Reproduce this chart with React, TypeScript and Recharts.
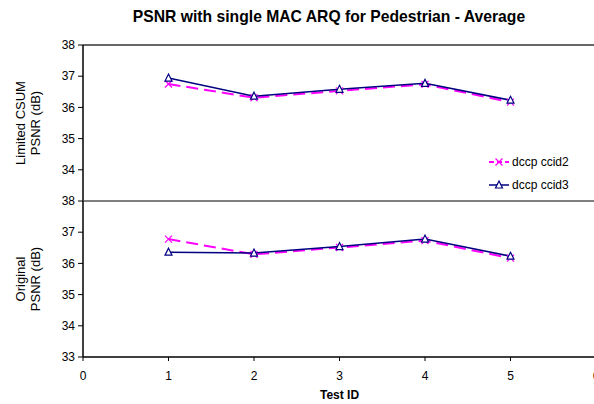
import React from "react";
import { LineChart, Line, XAxis, YAxis, ReferenceLine } from "recharts";

// Test IDs along the shared x axis
const testIds = [1, 2, 3, 4, 5];
const xTicks = [0, 1, 2, 3, 4, 5, 6];

// PSNR (dB) with limited CSUM
const csumCcid2 = [36.75, 36.31, 36.53, 36.74, 36.17];
const csumCcid3 = [36.94, 36.36, 36.58, 36.77, 36.23];

// PSNR (dB) original
const origCcid2 = [36.78, 36.29, 36.51, 36.73, 36.17];
const origCcid3 = [36.36, 36.33, 36.54, 36.78, 36.23];

const topTicks = [34, 35, 36, 37, 38];
const bottomTicks = [33, 34, 35, 36, 37, 38];

const CCID2 = "#ff00ff";
const CCID3 = "#000080";
const FONT = "Arial, 'Liberation Sans', sans-serif";

const topData = testIds.map((id, i) => ({ id, ccid2: csumCcid2[i], ccid3: csumCcid3[i] }));
const bottomData = testIds.map((id, i) => ({ id, ccid2: origCcid2[i], ccid3: origCcid3[i] }));

const CrossDot = (props: any) => {
  const { cx, cy } = props;
  if (cx == null || cy == null) return null;
  const s = 3.5;
  return (
    <g stroke={CCID2} strokeWidth={1.2}>
      <line x1={cx - s} y1={cy - s} x2={cx + s} y2={cy + s} />
      <line x1={cx - s} y1={cy + s} x2={cx + s} y2={cy - s} />
    </g>
  );
};

const TriangleDot = (props: any) => {
  const { cx, cy } = props;
  if (cx == null || cy == null) return null;
  const s = 3.5;
  return (
    <path
      d={`M${cx},${cy - s - 0.5} L${cx + s},${cy + s - 0.5} L${cx - s},${cy + s - 0.5} Z`}
      fill="#fff"
      stroke={CCID3}
      strokeWidth={1.2}
    />
  );
};

const axisTick = { fill: "#000", fontSize: 12, fontFamily: FONT };

// two-line rotated y axis title
const makeYLabel = (lines: string[]) => (props: any) => {
  const { viewBox } = props;
  const cy = viewBox.y + viewBox.height / 2;
  const x0 = 28;
  return (
    <text
      transform={`rotate(-90, ${x0}, ${cy})`}
      x={x0}
      y={cy}
      textAnchor="middle"
      fontFamily={FONT}
      fontSize={13}
      fill="#000"
    >
      <tspan x={x0} dy={-3}>{lines[0]}</tspan>
      <tspan x={x0} dy={15}>{lines[1]}</tspan>
    </text>
  );
};

const legendItems = [
  { name: "dccp ccid2", color: CCID2, dash: "5 3", Dot: CrossDot, w: 2 },
  { name: "dccp ccid3", color: CCID3, dash: undefined, Dot: TriangleDot, w: 1.5 },
];

const LegendBox = () => (
  <div style={{ fontFamily: FONT, fontSize: 12, color: "#000" }}>
    {legendItems.map(({ name, color, dash, Dot, w }) => (
      <div key={name} style={{ display: "flex", alignItems: "center", height: 23 }}>
        <svg width={22} height={12} style={{ marginRight: 2 }}>
          <line x1={1} y1={6} x2={21} y2={6} stroke={color} strokeWidth={w} strokeDasharray={dash} />
          <Dot cx={11} cy={6} />
        </svg>
        <span>{name}</span>
      </div>
    ))}
  </div>
);

export default function App() {
  return (
    <div
      style={{
        position: "absolute",
        left: 0,
        top: 0,
        width: 594,
        height: 404,
        overflow: "hidden",
        background: "#fff",
      }}
    >
      <div
        style={{
          position: "absolute",
          top: 8,
          left: 0,
          width: 658,
          textAlign: "center",
          fontFamily: FONT,
          fontWeight: "bold",
          fontSize: 15.7,
          color: "#000",
        }}
      >
        PSNR with single MAC ARQ for Pedestrian - Average
      </div>

      <div style={{ position: "absolute", left: 0, top: 0 }}>
        <LineChart
          width={600}
          height={202}
          data={topData}
          margin={{ top: 45, right: 4, bottom: 1, left: 0 }}
        >
          <XAxis dataKey="id" type="number" domain={[0, 6]} ticks={xTicks} hide />
          <YAxis
            type="number"
            domain={[33, 38]}
            ticks={topTicks}
            width={83}
            tick={axisTick}
            tickSize={5}
            tickMargin={3}
            axisLine={{ stroke: "#000", strokeWidth: 1.5 }}
            tickLine={{ stroke: "#000" }}
            label={{ content: makeYLabel(["Limited CSUM", "PSNR (dB)"]) }}
          />
          <ReferenceLine y={38} stroke="#333" strokeWidth={1.5} ifOverflow="visible" />
          <Line
            dataKey="ccid2"
            stroke={CCID2}
            strokeWidth={2}
            strokeDasharray="12 6"
            dot={<CrossDot />}
            activeDot={false}
            isAnimationActive={false}
          />
          <Line
            dataKey="ccid3"
            stroke={CCID3}
            strokeWidth={1.5}
            dot={<TriangleDot />}
            activeDot={false}
            isAnimationActive={false}
          />
        </LineChart>
      </div>

      <div style={{ position: "absolute", left: 488, top: 150 }}>
        <LegendBox />
      </div>

      <div style={{ position: "absolute", left: 0, top: 191 }}>
        <LineChart
          width={600}
          height={213}
          data={bottomData}
          margin={{ top: 10, right: 4, bottom: 1, left: 0 }}
        >
          <XAxis
            dataKey="id"
            type="number"
            domain={[0, 6]}
            ticks={xTicks}
            height={46}
            tick={axisTick}
            tickSize={4}
            tickMargin={10}
            axisLine={{ stroke: "#000", strokeWidth: 1.5 }}
            tickLine={{ stroke: "#000" }}
            label={{
              value: "Test ID",
              position: "insideBottom",
              offset: 4,
              style: { fontFamily: FONT, fontSize: 12, fontWeight: "bold", fill: "#000" },
            }}
          />
          <YAxis
            type="number"
            domain={[33, 38]}
            ticks={bottomTicks}
            width={83}
            tick={axisTick}
            tickSize={5}
            tickMargin={3}
            axisLine={{ stroke: "#000", strokeWidth: 1.5 }}
            tickLine={{ stroke: "#000" }}
            label={{ content: makeYLabel(["Original", "PSNR (dB)"]) }}
          />
          <ReferenceLine y={38} stroke="#555" strokeWidth={1.5} ifOverflow="visible" />
          <Line
            dataKey="ccid2"
            stroke={CCID2}
            strokeWidth={2}
            strokeDasharray="12 6"
            dot={<CrossDot />}
            activeDot={false}
            isAnimationActive={false}
          />
          <Line
            dataKey="ccid3"
            stroke={CCID3}
            strokeWidth={1.5}
            dot={<TriangleDot />}
            activeDot={false}
            isAnimationActive={false}
          />
        </LineChart>
      </div>
    </div>
  );
}
